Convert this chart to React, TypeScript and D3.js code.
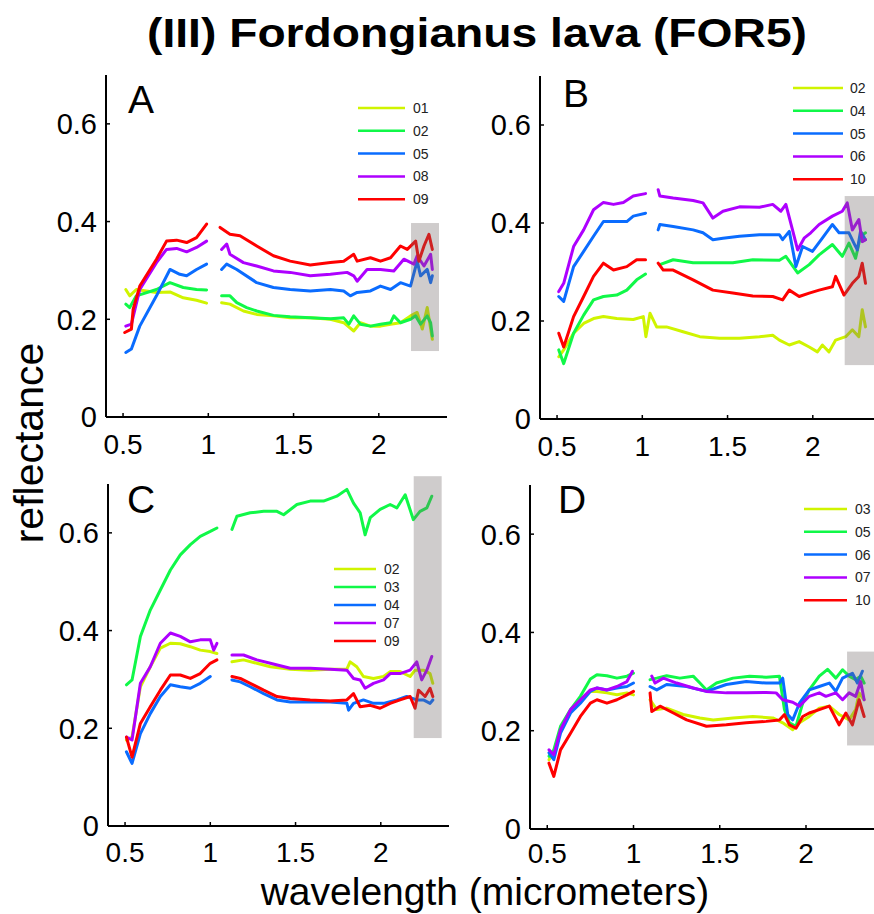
import React from "react";
import * as d3 from "d3";

type Pt = [number, number];

const X_DOMAIN: [number, number] = [0.4, 2.4];
const Y_DOMAIN: [number, number] = [0, 0.7];
const X_TICKS = [0.5, 1, 1.5, 2];
const Y_TICKS = [0, 0.2, 0.4, 0.6];
const COLORS = ["#d0f400", "#10f848", "#0a6cff", "#ae00ff", "#ff0000"];
// detector gap (no data between these wavelengths)
const GAP_START = 1.042;
const GAP_END = 1.065;

const TITLE = "(III) Fordongianus lava (FOR5)";
const X_LABEL = "wavelength (micrometers)";
const Y_LABEL = "reflectance";

const PANEL_NAMES = ["A", "B", "C", "D"];
const LEGEND_A = ["01", "02", "05", "08", "09"];
const LEGEND_B = ["02", "04", "05", "06", "10"];
const LEGEND_C = ["02", "03", "04", "07", "09"];
const LEGEND_D = ["03", "05", "06", "07", "10"];

// shaded band: [w0, w1, r0, r1]
const SHADE_A = [2.189, 2.353, 0.135, 0.397];
const SHADE_B = [2.187, 2.5, 0.11, 0.455];
const SHADE_C = [2.193, 2.357, 0.18, 0.716];
const SHADE_D = [2.238, 2.5, 0.17, 0.361];

// ---------- Panel A ----------
const A_01: Pt[] = [[0.516,0.261],[0.539,0.248],[0.578,0.261],[0.696,0.255],[0.775,0.256],[0.853,0.244],[0.931,0.239],[0.99,0.233],
  [1.078,0.234],[1.127,0.231],[1.206,0.217],[1.284,0.21],[1.382,0.207],[1.48,0.203],[1.598,0.203],[1.716,0.2],[1.794,0.193],[1.853,0.176],[1.892,0.193],[1.951,0.186],[2.01,0.186],[2.069,0.19],[2.127,0.193],[2.186,0.207],[2.225,0.214],[2.255,0.18],[2.284,0.224],[2.314,0.159]];
const A_02: Pt[] = [[0.516,0.231],[0.539,0.224],[0.578,0.248],[0.696,0.261],[0.775,0.275],[0.853,0.265],[0.931,0.261],[0.99,0.26],
  [1.078,0.248],[1.127,0.248],[1.167,0.234],[1.225,0.224],[1.284,0.217],[1.382,0.208],[1.48,0.205],[1.598,0.203],[1.716,0.201],[1.794,0.203],[1.824,0.19],[1.853,0.207],[1.892,0.19],[1.951,0.186],[2.01,0.19],[2.069,0.193],[2.088,0.207],[2.127,0.193],[2.186,0.2],[2.216,0.207],[2.245,0.19],[2.284,0.207],[2.304,0.193],[2.314,0.166]];
const A_05: Pt[] = [[0.516,0.132],[0.549,0.139],[0.598,0.186],[0.696,0.248],[0.775,0.302],[0.833,0.292],[0.873,0.289],[0.931,0.302],[0.99,0.313],
  [1.078,0.302],[1.108,0.313],[1.167,0.302],[1.284,0.275],[1.382,0.265],[1.48,0.261],[1.598,0.258],[1.716,0.261],[1.794,0.258],[1.833,0.248],[1.873,0.255],[1.951,0.258],[2.01,0.268],[2.069,0.261],[2.127,0.275],[2.186,0.268],[2.225,0.319],[2.245,0.289],[2.284,0.302],[2.304,0.275],[2.314,0.289]];
const A_08: Pt[] = [[0.516,0.186],[0.549,0.19],[0.598,0.261],[0.696,0.316],[0.755,0.343],[0.814,0.345],[0.873,0.338],[0.931,0.347],[0.99,0.36],
  [1.078,0.343],[1.108,0.354],[1.127,0.333],[1.206,0.316],[1.284,0.309],[1.382,0.299],[1.48,0.296],[1.598,0.289],[1.716,0.292],[1.814,0.296],[1.853,0.289],[1.873,0.278],[1.931,0.302],[2.01,0.302],[2.088,0.299],[2.147,0.323],[2.206,0.313],[2.225,0.33],[2.265,0.309],[2.304,0.333],[2.314,0.302]];
const A_09: Pt[] = [[0.51,0.173],[0.549,0.18],[0.559,0.22],[0.598,0.268],[0.696,0.323],[0.755,0.36],[0.814,0.362],[0.873,0.357],[0.931,0.367],[0.99,0.395],
  [1.069,0.388],[1.127,0.374],[1.186,0.371],[1.284,0.35],[1.382,0.33],[1.48,0.319],[1.598,0.311],[1.716,0.316],[1.794,0.319],[1.853,0.333],[1.873,0.319],[1.951,0.326],[2.01,0.319],[2.069,0.326],[2.127,0.35],[2.167,0.343],[2.216,0.36],[2.235,0.319],[2.265,0.35],[2.294,0.374],[2.314,0.343]];

// ---------- Panel B ----------
const B_02: Pt[] = [[0.51,0.127],[0.539,0.141],[0.597,0.175],[0.656,0.195],[0.714,0.205],[0.772,0.209],[0.85,0.205],[0.947,0.203],[1.006,0.209],[1.021,0.168],[1.045,0.216],[1.084,0.188],[1.142,0.188],[1.239,0.178],[1.337,0.168],[1.453,0.165],[1.57,0.165],[1.687,0.168],[1.765,0.171],[1.804,0.161],[1.862,0.151],[1.92,0.158],[1.979,0.147],[2.027,0.137],[2.056,0.151],[2.095,0.137],[2.134,0.161],[2.193,0.168],[2.232,0.182],[2.27,0.168],[2.29,0.223],[2.309,0.188]];
const B_04: Pt[] = [[0.51,0.141],[0.539,0.113],[0.597,0.175],[0.656,0.212],[0.714,0.243],[0.772,0.25],[0.85,0.253],[0.909,0.263],[0.967,0.284],[1.019,0.296],
  [1.103,0.315],[1.181,0.325],[1.298,0.319],[1.414,0.319],[1.531,0.319],[1.648,0.325],[1.804,0.324],[1.842,0.332],[1.911,0.298],[1.979,0.315],[2.037,0.335],[2.115,0.356],[2.173,0.332],[2.212,0.359],[2.251,0.328],[2.28,0.373],[2.309,0.38]];
const B_05: Pt[] = [[0.51,0.25],[0.539,0.24],[0.597,0.311],[0.656,0.342],[0.714,0.373],[0.772,0.403],[0.831,0.403],[0.909,0.403],[0.947,0.414],[1.019,0.42],
  [1.093,0.386],[1.103,0.397],[1.181,0.393],[1.298,0.386],[1.356,0.38],[1.414,0.366],[1.473,0.369],[1.57,0.373],[1.687,0.376],[1.804,0.376],[1.823,0.366],[1.862,0.383],[1.901,0.311],[1.94,0.352],[1.998,0.342],[2.056,0.369],[2.115,0.397],[2.154,0.38],[2.212,0.38],[2.241,0.359],[2.261,0.345],[2.28,0.383],[2.309,0.366]];
const B_06: Pt[] = [[0.51,0.26],[0.539,0.277],[0.597,0.352],[0.656,0.386],[0.714,0.427],[0.772,0.442],[0.831,0.438],[0.889,0.442],[0.947,0.455],[1.019,0.46],
  [1.093,0.468],[1.103,0.455],[1.181,0.451],[1.298,0.446],[1.356,0.441],[1.414,0.41],[1.473,0.424],[1.57,0.433],[1.687,0.432],[1.765,0.438],[1.813,0.424],[1.842,0.438],[1.881,0.386],[1.911,0.345],[1.949,0.369],[1.988,0.38],[2.037,0.397],[2.115,0.414],[2.173,0.424],[2.202,0.441],[2.232,0.386],[2.27,0.407],[2.29,0.362],[2.309,0.366]];
const B_10: Pt[] = [[0.51,0.175],[0.539,0.147],[0.597,0.209],[0.656,0.25],[0.714,0.291],[0.772,0.318],[0.831,0.304],[0.909,0.311],[0.967,0.325],[1.019,0.325],
  [1.093,0.318],[1.123,0.304],[1.181,0.304],[1.298,0.284],[1.414,0.263],[1.531,0.257],[1.648,0.251],[1.765,0.25],[1.823,0.243],[1.862,0.263],[1.92,0.25],[1.979,0.257],[2.037,0.263],[2.115,0.27],[2.134,0.291],[2.183,0.253],[2.232,0.277],[2.27,0.291],[2.29,0.318],[2.309,0.277]];

// ---------- Panel C ----------
const C_02: Pt[] = [[0.508,0.176],[0.541,0.182],[0.59,0.285],[0.648,0.326],[0.707,0.364],[0.766,0.374],[0.824,0.373],[0.883,0.367],[0.941,0.36],[1.0,0.357],[1.039,0.353],
  [1.127,0.336],[1.195,0.34],[1.273,0.333],[1.352,0.326],[1.469,0.321],[1.586,0.319],[1.703,0.321],[1.801,0.321],[1.82,0.336],[1.859,0.326],[1.898,0.306],[1.957,0.302],[2.016,0.306],[2.055,0.316],[2.113,0.316],[2.172,0.306],[2.201,0.319],[2.25,0.319],[2.289,0.312],[2.305,0.292]];
const C_03: Pt[] = [[0.508,0.289],[0.541,0.299],[0.59,0.388],[0.648,0.442],[0.707,0.483],[0.766,0.524],[0.824,0.555],[0.883,0.576],[0.941,0.593],[1.0,0.603],[1.039,0.61],
  [1.127,0.607],[1.156,0.634],[1.234,0.641],[1.313,0.644],[1.391,0.644],[1.43,0.637],[1.508,0.658],[1.586,0.665],[1.664,0.665],[1.742,0.675],[1.801,0.689],[1.84,0.661],[1.879,0.641],[1.908,0.596],[1.938,0.631],[1.996,0.648],[2.055,0.658],[2.094,0.651],[2.143,0.678],[2.191,0.627],[2.23,0.644],[2.27,0.651],[2.299,0.675]];
const C_04: Pt[] = [[0.508,0.152],[0.541,0.128],[0.59,0.189],[0.648,0.23],[0.707,0.265],[0.766,0.289],[0.824,0.285],[0.883,0.282],[0.941,0.292],[1.0,0.306],
  [1.127,0.299],[1.176,0.295],[1.234,0.285],[1.313,0.271],[1.391,0.258],[1.469,0.254],[1.586,0.254],[1.703,0.254],[1.801,0.251],[1.811,0.237],[1.84,0.251],[1.898,0.258],[1.957,0.251],[2.016,0.251],[2.094,0.258],[2.152,0.265],[2.211,0.258],[2.25,0.258],[2.289,0.251],[2.305,0.258]];
const C_07: Pt[] = [[0.508,0.182],[0.541,0.176],[0.59,0.292],[0.648,0.326],[0.707,0.374],[0.766,0.395],[0.824,0.388],[0.883,0.377],[0.941,0.381],[1.0,0.381],[1.02,0.36],[1.039,0.374],
  [1.127,0.35],[1.195,0.35],[1.273,0.34],[1.352,0.333],[1.469,0.323],[1.586,0.323],[1.703,0.321],[1.801,0.319],[1.84,0.302],[1.879,0.299],[1.908,0.282],[1.957,0.292],[2.016,0.299],[2.055,0.312],[2.113,0.312],[2.172,0.319],[2.211,0.336],[2.24,0.299],[2.27,0.319],[2.299,0.347]];
const C_09: Pt[] = [[0.508,0.182],[0.541,0.141],[0.59,0.21],[0.648,0.244],[0.707,0.278],[0.766,0.309],[0.824,0.309],[0.883,0.302],[0.941,0.312],[1.0,0.333],[1.039,0.34],
  [1.127,0.306],[1.176,0.302],[1.234,0.292],[1.313,0.278],[1.391,0.265],[1.469,0.261],[1.586,0.258],[1.703,0.256],[1.801,0.258],[1.84,0.271],[1.879,0.244],[1.938,0.247],[1.996,0.241],[2.055,0.251],[2.113,0.258],[2.172,0.265],[2.201,0.241],[2.221,0.278],[2.26,0.265],[2.289,0.282],[2.305,0.265]];

// ---------- Panel D ----------
const D_03: Pt[] = [[0.51,0.141],[0.538,0.155],[0.577,0.202],[0.635,0.239],[0.692,0.263],[0.75,0.28],[0.788,0.28],[0.846,0.277],[0.904,0.273],[0.962,0.277],[1.0,0.273],
  [1.096,0.263],[1.135,0.243],[1.192,0.246],[1.288,0.233],[1.385,0.226],[1.462,0.222],[1.577,0.226],[1.692,0.229],[1.808,0.226],[1.865,0.216],[1.923,0.202],[1.962,0.216],[2.019,0.229],[2.077,0.246],[2.135,0.25],[2.192,0.233],[2.25,0.222],[2.288,0.243],[2.308,0.277],[2.337,0.263]];
const D_05: Pt[] = [[0.51,0.148],[0.538,0.161],[0.577,0.209],[0.635,0.243],[0.692,0.27],[0.75,0.305],[0.788,0.314],[0.846,0.312],[0.904,0.307],[0.962,0.311],[1.0,0.317],
  [1.096,0.304],[1.135,0.307],[1.192,0.312],[1.269,0.307],[1.346,0.311],[1.385,0.297],[1.423,0.283],[1.481,0.297],[1.577,0.307],[1.673,0.311],[1.769,0.309],[1.846,0.311],[1.875,0.243],[1.904,0.216],[1.942,0.209],[1.981,0.256],[2.019,0.283],[2.077,0.311],[2.125,0.325],[2.173,0.307],[2.212,0.324],[2.25,0.311],[2.288,0.304],[2.317,0.311],[2.337,0.297]];
const D_06: Pt[] = [[0.51,0.155],[0.538,0.141],[0.577,0.195],[0.635,0.236],[0.692,0.256],[0.75,0.28],[0.788,0.287],[0.846,0.283],[0.904,0.287],[0.962,0.29],[1.0,0.297],
  [1.096,0.29],[1.135,0.283],[1.192,0.294],[1.308,0.29],[1.423,0.28],[1.538,0.294],[1.654,0.3],[1.769,0.297],[1.846,0.297],[1.865,0.307],[1.894,0.233],[1.923,0.222],[1.962,0.256],[2.019,0.283],[2.077,0.29],[2.135,0.297],[2.173,0.28],[2.212,0.307],[2.269,0.317],[2.298,0.297],[2.327,0.321]];
const D_07: Pt[] = [[0.51,0.161],[0.538,0.151],[0.577,0.202],[0.635,0.243],[0.692,0.263],[0.75,0.283],[0.788,0.287],[0.846,0.283],[0.904,0.29],[0.962,0.3],[0.994,0.321],
  [1.106,0.311],[1.125,0.297],[1.173,0.307],[1.25,0.297],[1.346,0.287],[1.423,0.28],[1.538,0.277],[1.654,0.277],[1.769,0.278],[1.827,0.277],[1.865,0.263],[1.923,0.258],[1.962,0.25],[2.019,0.27],[2.077,0.277],[2.115,0.27],[2.173,0.277],[2.212,0.263],[2.25,0.277],[2.288,0.27],[2.317,0.3],[2.337,0.263]];
const D_10: Pt[] = [[0.51,0.134],[0.538,0.107],[0.577,0.161],[0.635,0.195],[0.692,0.229],[0.75,0.256],[0.788,0.263],[0.846,0.256],[0.904,0.263],[0.962,0.273],[1.0,0.28],
  [1.096,0.277],[1.106,0.239],[1.154,0.25],[1.231,0.236],[1.308,0.222],[1.423,0.209],[1.538,0.212],[1.654,0.216],[1.769,0.219],[1.846,0.222],[1.875,0.233],[1.904,0.212],[1.942,0.205],[1.981,0.229],[2.019,0.236],[2.077,0.243],[2.135,0.25],[2.192,0.212],[2.231,0.236],[2.269,0.212],[2.308,0.263],[2.337,0.229]];

const FONT = "'Liberation Sans', Arial, Helvetica, sans-serif";

const PANELS = [
  { name: PANEL_NAMES[0], legend: LEGEND_A, series: [A_01, A_02, A_05, A_08, A_09], shade: SHADE_A,
    xr: [106, 447], yr: [417, 75], letter: [128, 113], tickDy: 37, leg: { x1: 358, x2: 405, tx: 413, y: 108, dy: 22.8 } },
  { name: PANEL_NAMES[1], legend: LEGEND_B, series: [B_02, B_04, B_05, B_06, B_10], shade: SHADE_B,
    xr: [540, 881], yr: [419, 76], letter: [563, 107], tickDy: 37, leg: { x1: 793, x2: 843, tx: 850, y: 88, dy: 22.8 } },
  { name: PANEL_NAMES[2], legend: LEGEND_C, series: [C_02, C_03, C_04, C_07, C_09], shade: SHADE_C,
    xr: [108, 449], yr: [826, 484], letter: [127, 513], tickDy: 36, leg: { x1: 334, x2: 376, tx: 384, y: 569, dy: 18 } },
  { name: PANEL_NAMES[3], legend: LEGEND_D, series: [D_03, D_05, D_06, D_07, D_10], shade: SHADE_D,
    xr: [530, 875], yr: [829, 485], letter: [558, 513], tickDy: 34, leg: { x1: 804, x2: 847, tx: 855, y: 509, dy: 22.8 } },
];

function splitSegments(pts: Pt[]): Pt[][] {
  const segs: Pt[][] = [];
  let cur: Pt[] = [];
  pts.forEach((p, i) => {
    if (i > 0 && pts[i - 1][0] < GAP_START && p[0] > GAP_END) {
      segs.push(cur);
      cur = [];
    }
    cur.push(p);
  });
  if (cur.length) segs.push(cur);
  return segs;
}

function Panel({ p }: { p: (typeof PANELS)[number] }) {
  const x = d3.scaleLinear().domain(X_DOMAIN).range(p.xr);
  const y = d3.scaleLinear().domain(Y_DOMAIN).range(p.yr);
  const line = d3.line<Pt>().x((d) => x(d[0])).y((d) => y(d[1]));
  const [s0, s1, r0, r1] = p.shade;
  const x0 = p.xr[0];
  const yb = p.yr[0];
  return (
    <g>
      {p.series.map((s, i) =>
        splitSegments(s).map((seg, j) => (
          <path key={`${i}-${j}`} d={line(seg) || ""} fill="none" stroke={COLORS[i]} strokeWidth={3} strokeLinejoin="round" strokeLinecap="round" />
        ))
      )}
      <rect x={x(s0)} width={x(s1) - x(s0)} y={y(r1)} height={y(r0) - y(r1)} fill="#6e6464" fillOpacity={0.33} />
      <line x1={x0} x2={x0} y1={y(0.7)} y2={yb} stroke="#000" strokeWidth={2} />
      <line x1={x0} x2={p.xr[1]} y1={yb} y2={yb} stroke="#000" strokeWidth={2} />
      {Y_TICKS.map((t) => (
        <g key={`y${t}`}>
          <line x1={x0} x2={x0 + 4} y1={y(t)} y2={y(t)} stroke="#000" strokeWidth={1.5} />
          <text x={x0 - 9} y={y(t)} dy="0.36em" textAnchor="end" fontSize={29} fontFamily={FONT}>{String(t)}</text>
        </g>
      ))}
      {X_TICKS.map((t) => (
        <g key={`x${t}`}>
          <line x1={x(t)} x2={x(t)} y1={yb} y2={yb - 4} stroke="#000" strokeWidth={1.5} />
          <text x={x(t)} y={yb + p.tickDy} textAnchor="middle" fontSize={28} fontFamily={FONT}>{String(t)}</text>
        </g>
      ))}
      <text x={p.letter[0]} y={p.letter[1]} fontSize={39} fontFamily={FONT}>{p.name}</text>
      {p.legend.map((lab, i) => (
        <g key={lab}>
          <line x1={p.leg.x1} x2={p.leg.x2} y1={p.leg.y + i * p.leg.dy} y2={p.leg.y + i * p.leg.dy} stroke={COLORS[i]} strokeWidth={2.5} />
          <text x={p.leg.tx} y={p.leg.y + i * p.leg.dy} dy="0.36em" fontSize={14} fontFamily={FONT} fill="#222">{lab}</text>
        </g>
      ))}
    </g>
  );
}

export default function App() {
  return (
    <svg width={874} height={914} style={{ position: "absolute", left: 0, top: 0, background: "#fff" }}>
      <rect width={874} height={914} fill="#fff" />
      <text x={477} y={47} textAnchor="middle" fontSize={40} fontWeight="bold" fontFamily={FONT} textLength={660} lengthAdjust="spacingAndGlyphs">{TITLE}</text>
      <text transform="translate(43,443) rotate(-90)" textAnchor="middle" fontSize={41} fontFamily={FONT}>{Y_LABEL}</text>
      <text x={485} y={905} textAnchor="middle" fontSize={39} fontFamily={FONT}>{X_LABEL}</text>
      {PANELS.map((p) => (
        <Panel key={p.name} p={p} />
      ))}
    </svg>
  );
}
